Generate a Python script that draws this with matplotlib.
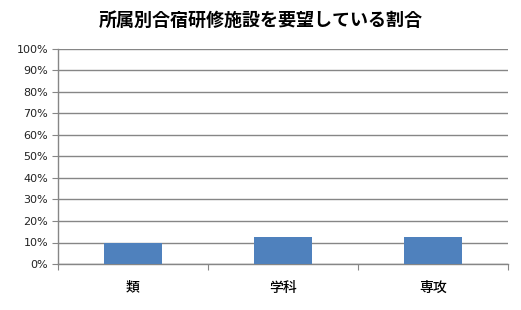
import matplotlib
matplotlib.use('Agg')
from matplotlib import pyplot as plt
from matplotlib.ticker import PercentFormatter, MultipleLocator
import numpy as np

# データ
categories = ['類', '学科', '専攻']
values = [0.10, 0.126, 0.126]
title = '所属別合宿研修施設を要望している割合'

plt.rcParams['font.family'] = ['Noto Sans CJK JP', 'DejaVu Sans']

fig = plt.figure(figsize=(5.21, 3.10), dpi=100)
ax = fig.add_axes([58/521, 46/310, 450/521, 215/310])

x = np.arange(len(categories))
ax.bar(x, values, width=0.39, color='#4F81BD', zorder=3)

ax.set_xlim(-0.5, len(categories) - 0.5)
ax.set_ylim(0, 1.0)
ax.yaxis.set_major_locator(MultipleLocator(0.1))
ax.yaxis.set_major_formatter(PercentFormatter(1.0, decimals=0))
ax.grid(axis='y', color='#868686', linewidth=1.0, zorder=0)

# x軸の目盛りは区切り位置、ラベルは中央
ax.set_xticks(np.arange(len(categories) + 1) - 0.5)
ax.set_xticklabels([])
ax.set_xticks(x, minor=True)
ax.set_xticklabels(categories, minor=True, fontsize=10, fontweight='medium')
ax.tick_params(axis='x', which='minor', length=0, pad=12)
ax.tick_params(axis='x', which='major', length=4, color='#868686', direction='out')
ax.tick_params(axis='y', length=4, color='#868686', labelsize=8, pad=3)
for lbl in ax.get_yticklabels():
    lbl.set_fontfamily('DejaVu Sans')
    lbl.set_color('#222222')

for s in ['top', 'right']:
    ax.spines[s].set_visible(False)
for s in ['left', 'bottom']:
    ax.spines[s].set_color('#868686')
    ax.spines[s].set_linewidth(1.0)

fig.text(0.5, 1 - 20/310, title, ha='center', va='center', fontsize=13, fontweight='bold')

plt.savefig('out.png', dpi=100)
